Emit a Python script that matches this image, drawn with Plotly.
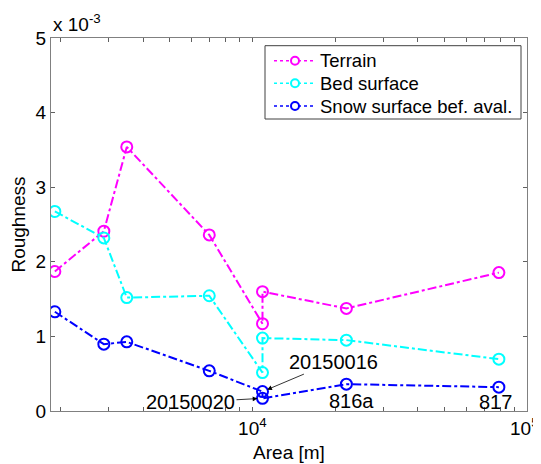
import math
import plotly.graph_objects as go

# Data
area = [1910, 2880, 3490, 6970, 10890, 10890, 22000, 79000]
terrain = [1.87e-3, 2.41e-3, 3.54e-3, 2.36e-3, 1.17e-3, 1.60e-3, 1.375e-3, 1.855e-3]
bed_surface = [2.675e-3, 2.32e-3, 1.52e-3, 1.545e-3, 0.515e-3, 0.977e-3, 0.95e-3, 0.695e-3]
snow_surface = [1.33e-3, 0.896e-3, 0.927e-3, 0.538e-3, 0.26e-3, 0.17e-3, 0.36e-3, 0.32e-3]
series_names = ["Terrain", "Bed surface", "Snow surface bef. aval."]
series_colors = ["#FF00FF", "#00FFFF", "#0000FF"]
point_labels = ["20150016", "20150020", "816a", "817"]

y_ticks = [0, 1e-3, 2e-3, 3e-3, 4e-3, 5e-3]
y_ticktext = ["0", "1", "2", "3", "4", "5"]
x_minor = [2000, 3000, 4000, 5000, 6000, 7000, 8000, 9000,
           20000, 30000, 40000, 50000, 60000, 70000, 80000, 90000]
x_major = [1e4, 1e5]
x_major_text = ["10<sup>4</sup>", "10<sup>5</sup>"]

FONT = "Liberation Sans, Arial, sans-serif"

# page body adds an 8px offset; figure is sized so the plot lands where the reference has it
FIG_W, FIG_H = 533, 456
ML, MR, MT, MB = 43, 14, 30, 53
PW = FIG_W - ML - MR
PH = FIG_H - MT - MB


def px(xp):  # screen pixel -> paper x
    return (xp - 8 - ML) / PW


def py(yp):  # screen pixel -> paper y
    return (FIG_H - MB - (yp - 8)) / PH


fig = go.Figure()
for name, vals, col in zip(series_names, [terrain, bed_surface, snow_surface], series_colors):
    fig.add_trace(go.Scatter(
        x=area, y=vals, name=name, mode="lines+markers", showlegend=False,
        line=dict(color=col, width=2, dash="dashdot"),
        marker=dict(symbol="circle-open", size=11, color=col, line=dict(width=2, color=col)),
    ))

tickvals = sorted(x_minor + x_major)
ticktext = [x_major_text[0] if v == x_major[0] else "" for v in tickvals]

fig.update_layout(
    width=FIG_W, height=FIG_H,
    margin=dict(l=ML, r=MR, t=MT, b=MB),
    paper_bgcolor="white", plot_bgcolor="white",
    font=dict(family=FONT, size=19, color="black"),
    showlegend=False,
    xaxis=dict(
        type="log", range=[3.267, 5.0], automargin=False,
        tickvals=tickvals, ticktext=ticktext,
        ticks="inside", ticklen=4, tickcolor="#606060",
        showline=True, linecolor="#808080", linewidth=1, mirror="ticks",
        showgrid=False, zeroline=False,
        title=dict(text="Area [m]", font=dict(size=19), standoff=7),
        tickfont=dict(size=19),
    ),
    yaxis=dict(
        range=[0, 5e-3], automargin=False,
        tickvals=y_ticks, ticktext=y_ticktext,
        ticks="inside", ticklen=4, tickcolor="#606060",
        showline=True, linecolor="#808080", linewidth=1, mirror="ticks",
        showgrid=False, zeroline=False,
        title=dict(text="Roughness", font=dict(size=19), standoff=14),
        tickfont=dict(size=19),
    ),
)

# 10^5 label sits on the right edge (partly clipped in the reference)
fig.add_annotation(
    x=math.log10(x_major[1]), y=0, xref="x", yref="paper", xanchor="center", yanchor="top",
    text=x_major_text[1], showarrow=False, font=dict(size=19), yshift=-2, xshift=-3,
)

fig.add_annotation(
    x=0, y=1, xref="paper", yref="paper", xanchor="left", yanchor="bottom",
    text="x 10<sup>-3</sup>", showarrow=False, font=dict(size=19), yshift=1,
)

# Legend box (drawn by hand to match row spacing)
fig.add_shape(type="rect", xref="paper", yref="paper",
              x0=px(265), x1=px(521), y0=py(119), y1=py(45.7),
              line=dict(color="#404040", width=1), fillcolor="white", layer="above")
row_y = [60.7, 83.3, 106]
for name, col, ry in zip(series_names, series_colors, row_y):
    fig.add_shape(type="line", xref="paper", yref="paper",
                  x0=px(274), x1=px(316), y0=py(ry), y1=py(ry),
                  line=dict(color=col, width=1.5, dash="dot"), layer="above")
    fig.add_shape(type="circle", xref="paper", yref="paper",
                  xsizemode="pixel", ysizemode="pixel",
                  xanchor=px(295), yanchor=py(ry),
                  x0=-4, x1=4, y0=-4, y1=4,
                  line=dict(color=col, width=2), fillcolor="white", layer="above")
    fig.add_annotation(x=px(318), y=py(ry), xref="paper", yref="paper",
                       xanchor="left", yanchor="middle", text=name, showarrow=False,
                       font=dict(size=18.5, family=FONT, color="black"))

ann_font = dict(size=20, family=FONT, color="black")
fig.add_annotation(
    x=math.log10(area[4]), y=snow_surface[4], text=point_labels[0], xref="x", yref="y",
    showarrow=True, ax=71, ay=-30, arrowhead=2, arrowsize=1.2, arrowwidth=0.8,
    arrowcolor="black", standoff=5, font=ann_font,
)
fig.add_annotation(
    x=math.log10(area[5]), y=snow_surface[5], text=point_labels[1], xref="x", yref="y",
    showarrow=True, ax=-72, ay=4, arrowhead=2, arrowsize=1.2, arrowwidth=0.8,
    arrowcolor="black", standoff=5, font=ann_font,
)
fig.add_annotation(
    x=math.log10(area[6]), y=snow_surface[6], text=point_labels[2], xref="x", yref="y",
    showarrow=False, xshift=5, yshift=-17, font=ann_font,
)
fig.add_annotation(
    x=math.log10(area[7]), y=snow_surface[7], text=point_labels[3], xref="x", yref="y",
    showarrow=False, xshift=-3, yshift=-15, font=ann_font,
)

fig.write_html("out.html")
